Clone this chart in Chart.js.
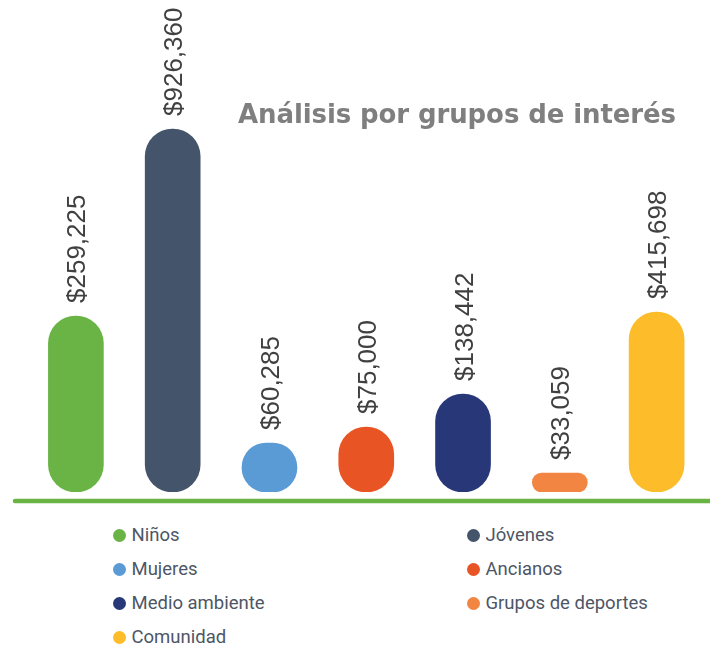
<!DOCTYPE html>
<html>
<head>
<meta charset="utf-8">
<script src="https://cdn.jsdelivr.net/npm/chart.js@4.4.1/dist/chart.umd.min.js"></script>
<style>
  html, body { margin: 0; padding: 0; background: #ffffff; }
  #wrap { position: relative; width: 710px; height: 647px; overflow: hidden; background: #fff; }
  #chart { position: absolute; left: 0; top: 0; }
  #title {
    position: absolute; left: 238px; top: 99px; white-space: nowrap;
    font-family: "DejaVu Sans", sans-serif; font-weight: bold; font-size: 26px;
    line-height: 30px; color: #7f7f7f; letter-spacing: -0.1px;
  }
  .lg { position: absolute; height: 20px; display: flex; align-items: center; white-space: nowrap;
    font-family: Roboto, "Noto Sans", sans-serif; font-size: 18.5px; line-height: 20px; color: #4d5666; }
  .lg .dot { width: 13px; height: 13px; border-radius: 50%; margin-right: 6px; flex: none; }
</style>
</head>
<body>
<div id="wrap">
  <canvas id="chart" width="710" height="510"></canvas>
  <div id="title">Análisis por grupos de interés</div>
</div>
<script>
// ---- Data ----
const categorias = ['Niños', 'Jóvenes', 'Mujeres', 'Ancianos', 'Medio ambiente', 'Grupos de deportes', 'Comunidad'];
const montos = [259225, 926360, 60285, 75000, 138442, 33059, 415698];
// Bar heights as drawn in the infographic (relative units, not proportional to the amounts)
const alturas = [176, 363, 49, 65, 98, 19, 180];
const colores = ['#6ab446', '#44546a', '#5b9bd5', '#e85424', '#283778', '#f18541', '#fdbc2a'];

const etiquetas = montos.map(v => '$' + v.toLocaleString('en-US'));

// value labels, rotated
const valueLabels = {
  id: 'valueLabels',
  afterDatasetsDraw(chart) {
    const ctx = chart.ctx;
    const meta = chart.getDatasetMeta(0);
    ctx.save();
    ctx.font = '26px "Liberation Sans", Arial, sans-serif';
    ctx.fillStyle = '#404040';
    ctx.textAlign = 'left';
    ctx.textBaseline = 'alphabetic';
    meta.data.forEach((bar, i) => {
      ctx.save();
      ctx.translate(bar.x, bar.y - 13);
      ctx.rotate(-Math.PI / 2);
      ctx.fillText(etiquetas[i], 0, 9.5);
      ctx.restore();
    });
    ctx.restore();
  }
};

// green base line
const baseLine = {
  id: 'baseLine',
  afterDraw(chart) {
    const ctx = chart.ctx;
    const y = chart.scales.y.getPixelForValue(0) + 9;
    ctx.save();
    ctx.strokeStyle = '#6ab446';
    ctx.lineWidth = 4.5;
    ctx.lineCap = 'round';
    ctx.beginPath();
    ctx.moveTo(15, y);
    ctx.lineTo(712, y);
    ctx.stroke();
    ctx.restore();
  }
};

new Chart(document.getElementById('chart'), {
  type: 'bar',
  data: {
    labels: categorias,
    datasets: [{
      data: alturas,
      backgroundColor: colores,
      borderRadius: 30,
      borderSkipped: false,
      barThickness: 55
    }]
  },
  options: {
    responsive: false,
    animation: false,
    layout: { padding: { top: 92, bottom: 18, left: 27.5, right: 5 } },
    scales: {
      x: { display: false },
      y: { display: false, min: 0, max: 400 }
    },
    plugins: { legend: { display: false }, tooltip: { enabled: false } }
  },
  plugins: [valueLabels, baseLine]
});

// legend (two columns)
const wrap = document.getElementById('wrap');
categorias.forEach((c, i) => {
  const col = i % 2, row = Math.floor(i / 2);
  const el = document.createElement('div');
  el.className = 'lg';
  el.style.left = (col === 0 ? 112.5 : 466.5) + 'px';
  el.style.top = (525 + row * 34) + 'px';
  const dot = document.createElement('span');
  dot.className = 'dot';
  dot.style.background = colores[i];
  const t = document.createElement('span');
  t.textContent = c;
  el.appendChild(dot);
  el.appendChild(t);
  wrap.appendChild(el);
});
</script>
</body>
</html>
